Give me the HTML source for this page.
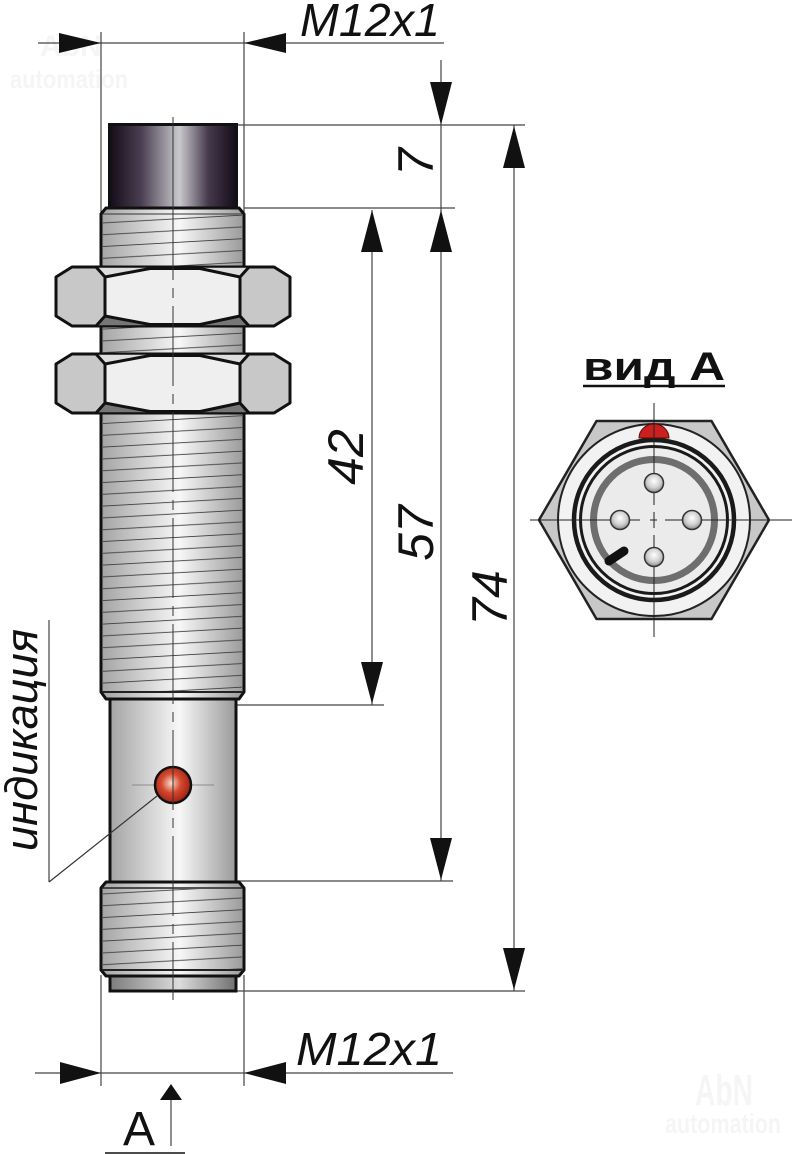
<!DOCTYPE html>
<html><head><meta charset="utf-8">
<style>html,body{margin:0;padding:0;background:#fff;}svg{display:block;}</style>
</head><body>
<svg width="792" height="1154" viewBox="0 0 792 1154" xmlns="http://www.w3.org/2000/svg">
<defs>
<linearGradient id="metal" x1="0" x2="1" y1="0" y2="0">
 <stop offset="0" stop-color="#a4a4a4"/>
 <stop offset="0.55" stop-color="#f7f7f7"/>
 <stop offset="1" stop-color="#9a9a9a"/>
</linearGradient>
<linearGradient id="cap" x1="0" x2="1" y1="0" y2="0">
 <stop offset="0" stop-color="#140c18"/>
 <stop offset="0.25" stop-color="#4a3f52"/>
 <stop offset="0.55" stop-color="#c9c9cd"/>
 <stop offset="0.78" stop-color="#45384c"/>
 <stop offset="1" stop-color="#140c18"/>
</linearGradient>
<linearGradient id="endcap" x1="0" x2="1" y1="0" y2="0">
 <stop offset="0" stop-color="#7c7c7c"/>
 <stop offset="0.55" stop-color="#dcdcdc"/>
 <stop offset="1" stop-color="#707070"/>
</linearGradient>
<pattern id="thr" patternUnits="userSpaceOnUse" x="101" y="213" width="143" height="11.8">
 <line x1="0" y1="10" x2="143" y2="2" stroke="#3a3a3a" stroke-width="0.9"/>
</pattern>
<pattern id="thr2" patternUnits="userSpaceOnUse" x="101" y="884" width="143" height="11.8">
 <line x1="0" y1="10" x2="143" y2="2" stroke="#3a3a3a" stroke-width="0.9"/>
</pattern>
<radialGradient id="led" cx="0.45" cy="0.45" r="0.6">
 <stop offset="0" stop-color="#f7ddd2"/>
 <stop offset="0.45" stop-color="#d4492e"/>
 <stop offset="1" stop-color="#9a1a10"/>
</radialGradient>
<radialGradient id="pin" cx="0.5" cy="0.4" r="0.6">
 <stop offset="0" stop-color="#ffffff"/>
 <stop offset="0.6" stop-color="#cfcfcf"/>
 <stop offset="1" stop-color="#8a8a8a"/>
</radialGradient>
</defs>

<!-- watermarks -->
<g fill="#f5f5f5" font-family="Liberation Sans, sans-serif" font-weight="bold">
 <text x="40" y="56" font-size="30">AbN</text>
 <text x="10" y="88" font-size="26" textLength="118" lengthAdjust="spacingAndGlyphs">automation</text>
 <text x="695" y="1105" font-size="44" textLength="58" lengthAdjust="spacingAndGlyphs">AbN</text>
 <text x="665" y="1133" font-size="28" textLength="116" lengthAdjust="spacingAndGlyphs">automation</text>
</g>

<!-- extension & dimension lines -->
<g stroke="#444" stroke-width="1.2" fill="none">
 <line x1="101" y1="32" x2="101" y2="214"/>
 <line x1="244" y1="32" x2="244" y2="212"/>
 <line x1="38" y1="43" x2="444" y2="43"/>
 <line x1="237" y1="125" x2="525" y2="125"/>
 <line x1="244" y1="208" x2="455" y2="208"/>
 <line x1="236" y1="705" x2="384" y2="705"/>
 <line x1="236" y1="881" x2="453" y2="881"/>
 <line x1="236" y1="991" x2="525" y2="991"/>
 <line x1="441" y1="60" x2="441" y2="881"/>
 <line x1="372" y1="210" x2="372" y2="705"/>
 <line x1="514" y1="125" x2="514" y2="991"/>
 <line x1="101" y1="975" x2="101" y2="1086"/>
 <line x1="244" y1="975" x2="244" y2="1086"/>
 <line x1="35" y1="1073" x2="453" y2="1073"/>
 <line x1="49" y1="620" x2="49" y2="882"/>
 <line x1="171" y1="1095" x2="171" y2="1146"/>
</g>
<g fill="#111">
 <polygon points="101,43 59,33 59,53"/>
 <polygon points="244,43 286,33 286,53"/>
 <polygon points="101,1073 60,1062 60,1084"/>
 <polygon points="244,1073 286,1062 286,1084"/>
 <polygon points="441,125 430,82 452,82"/>
 <polygon points="441,210 430,252 452,252"/>
 <polygon points="441,880 430,838 452,838"/>
 <polygon points="372,210 361,252 383,252"/>
 <polygon points="372,704 361,662 383,662"/>
 <polygon points="514,126 503,168 525,168"/>
 <polygon points="514,990 503,948 525,948"/>
 <polygon points="171,1084 160,1100 182,1100"/>
</g>

<!-- sensor body -->
<rect x="109.5" y="124.5" width="127" height="84" fill="url(#cap)" stroke="#111" stroke-width="3"/>
<polygon points="106,208 239,208 244,214 244,692 239,699 106,699 101,692 101,214" fill="url(#metal)" stroke="#111" stroke-width="3" stroke-linejoin="round"/>
<rect x="103" y="215" width="139" height="476" fill="url(#thr)"/>
<line x1="102" y1="214" x2="243" y2="214" stroke="#333" stroke-width="1"/>
<line x1="102" y1="692" x2="243" y2="692" stroke="#222" stroke-width="2"/>

<rect x="110" y="699" width="126" height="183" fill="url(#metal)" stroke="#111" stroke-width="3"/>

<polygon points="106,882 239,882 244,888 244,970 239,976 106,976 101,970 101,888" fill="url(#metal)" stroke="#111" stroke-width="3" stroke-linejoin="round"/>
<rect x="103" y="889" width="139" height="80" fill="url(#thr2)"/>
<line x1="102" y1="888" x2="243" y2="888" stroke="#222" stroke-width="1.5"/>
<line x1="102" y1="970" x2="243" y2="970" stroke="#222" stroke-width="2"/>
<rect x="110" y="976" width="126" height="15" fill="url(#endcap)" stroke="#111" stroke-width="3"/>

<!-- nuts -->
<g stroke="#111" stroke-width="3" stroke-linejoin="round">
 <polygon points="56,277 72,267 274,267 290,277 290,316 274,326 72,326 56,316" fill="#c8c8c8"/>
 <polygon points="96,267 150,267 150,268.5 105,277" fill="#dedede" stroke-width="1.5"/>
 <polygon points="249,267 200,267 200,268.5 240,277" fill="#dedede" stroke-width="1.5"/>
 <polygon points="96,326 150,326 150,324.5 105,316" fill="#767676" stroke-width="1.5"/>
 <polygon points="249,326 200,326 200,324.5 240,316" fill="#767676" stroke-width="1.5"/>
 <polygon points="105,277 150,268.5 200,268.5 240,277 240,316 200,324.5 150,324.5 105,316" fill="#efefef"/>
 <line x1="96" y1="267" x2="105" y2="277"/><line x1="249" y1="267" x2="240" y2="277"/>
 <line x1="96" y1="326" x2="105" y2="316"/><line x1="249" y1="326" x2="240" y2="316"/>

 <polygon points="56,364 72,354 274,354 290,364 290,403 274,413 72,413 56,403" fill="#c8c8c8"/>
 <polygon points="96,354 150,354 150,355.5 105,364" fill="#dedede" stroke-width="1.5"/>
 <polygon points="249,354 200,354 200,355.5 240,364" fill="#dedede" stroke-width="1.5"/>
 <polygon points="96,413 150,413 150,411.5 105,403" fill="#767676" stroke-width="1.5"/>
 <polygon points="249,413 200,413 200,411.5 240,403" fill="#767676" stroke-width="1.5"/>
 <polygon points="105,364 150,355.5 200,355.5 240,364 240,403 200,411.5 150,411.5 105,403" fill="#efefef"/>
 <line x1="96" y1="354" x2="105" y2="364"/><line x1="249" y1="354" x2="240" y2="364"/>
 <line x1="96" y1="413" x2="105" y2="403"/><line x1="249" y1="413" x2="240" y2="403"/>
</g>

<!-- leader line over body -->
<line x1="49" y1="882" x2="157" y2="796" stroke="#333" stroke-width="1.2"/>

<!-- LED -->
<line x1="132" y1="785" x2="214" y2="785" stroke="#777" stroke-width="0.8"/>
<circle cx="173" cy="785" r="18" fill="url(#led)" stroke="#111" stroke-width="2.5"/>

<!-- centerline -->
<line x1="173" y1="117" x2="173" y2="200" stroke="#333" stroke-width="1"/>
<line x1="173" y1="200" x2="173" y2="1000" stroke="#333" stroke-width="1" stroke-dasharray="80 8 10 8"/>

<!-- texts -->
<g font-family="Liberation Sans, sans-serif" fill="#111">
 <text x="300" y="36" font-size="46" font-style="italic" textLength="140" lengthAdjust="spacingAndGlyphs">M12x1</text>
 <text x="296" y="1065" font-size="46" font-style="italic" textLength="146" lengthAdjust="spacingAndGlyphs">M12x1</text>
 <text x="123" y="1145" font-size="48">A</text>
 <text transform="translate(433,162) rotate(-90)" text-anchor="middle" font-size="50" font-style="italic">7</text>
 <text transform="translate(363,457) rotate(-90)" text-anchor="middle" font-size="50" font-style="italic">42</text>
 <text transform="translate(433,533) rotate(-90)" text-anchor="middle" font-size="50" font-style="italic">57</text>
 <text transform="translate(507,598) rotate(-90)" text-anchor="middle" font-size="50" font-style="italic">74</text>
 <text transform="translate(37,740) rotate(-90)" text-anchor="middle" font-size="45" font-style="italic" textLength="222" lengthAdjust="spacingAndGlyphs">индикация</text>
 <text x="583" y="380" font-size="40" font-weight="bold" textLength="142" lengthAdjust="spacingAndGlyphs">вид А</text>
</g>
<line x1="583" y1="386" x2="725" y2="386" stroke="#111" stroke-width="2.5"/>
<line x1="105" y1="1153" x2="185" y2="1153" stroke="#111" stroke-width="1.5"/>

<!-- view A -->
<polygon points="539,520 596.5,421 711.5,421 769,520 711.5,619 596.5,619" fill="#c8c8c8" stroke="#222" stroke-width="2.5" stroke-linejoin="round"/>
<circle cx="654" cy="520" r="96" fill="#f2f2f2" stroke="#222" stroke-width="2"/>
<circle cx="654" cy="520" r="80" fill="none" stroke="#1a1a1a" stroke-width="4.5"/>
<circle cx="654" cy="520" r="73.5" fill="#ededed" stroke="#1a1a1a" stroke-width="3"/>
<circle cx="654" cy="520" r="60.5" fill="#ebebeb" stroke="#6e6e6e" stroke-width="7"/>
<path d="M639,438 A15,14 0 0 1 669,438 Z" fill="#cc2020" stroke="#5a0c0c" stroke-width="1"/>
<g stroke="#222" stroke-width="1" fill="none">
 <line x1="654" y1="403" x2="654" y2="505"/>
 <line x1="654" y1="512" x2="654" y2="528"/>
 <line x1="654" y1="535" x2="654" y2="637"/>
 <line x1="530" y1="520" x2="640" y2="520"/>
 <line x1="650" y1="520" x2="657" y2="520"/>
 <line x1="665" y1="520" x2="792" y2="520"/>
</g>
<g stroke="#333" stroke-width="1.5" fill="url(#pin)">
 <circle cx="654" cy="483" r="9.5"/>
 <circle cx="620" cy="520" r="9.5"/>
 <circle cx="692" cy="520" r="9.5"/>
 <circle cx="654" cy="557" r="9.5"/>
</g>
<line x1="609" y1="561" x2="624" y2="551" stroke="#111" stroke-width="9" stroke-linecap="round"/>
</svg>
</body></html>
